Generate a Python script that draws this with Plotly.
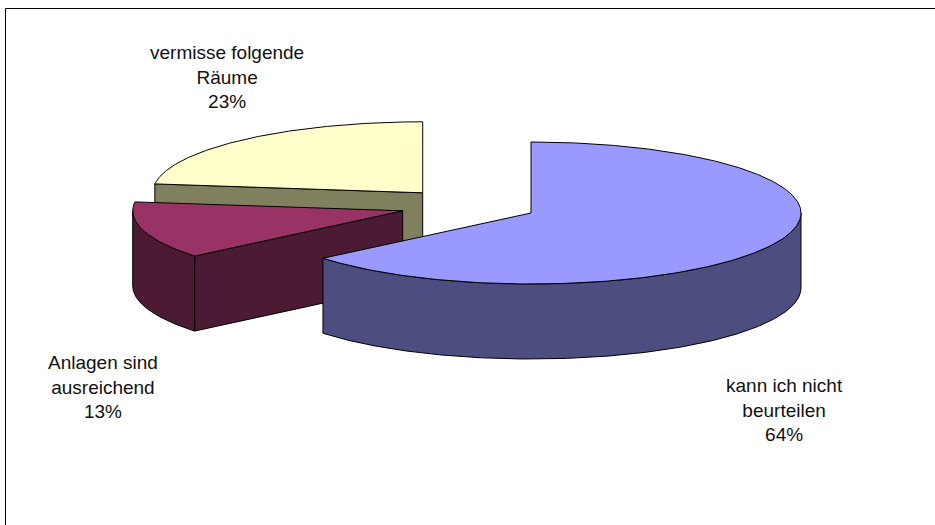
import math
import plotly.graph_objects as go

# Data
categories = ["kann ich nicht<br>beurteilen", "Anlagen sind<br>ausreichend", "vermisse folgende<br>Räume"]
values = [64, 13, 23]

# Styles and layout of the tilted pie
top_colors = ["#9999FF", "#993366", "#FFFFCC"]
side_colors = ["#4D4D80", "#4D1A33", "#80805F"]
apex_x = [531, 402.7, 422.7]
apex_y = [213, 210.8, 192.8]
label_x = [784, 103, 227]
label_y = [410, 387, 77]
RX, RY, DEPTH = 270, 71, 75
W, H = 935, 525


def rim(cx, cy, deg, dy=0):
    t = math.radians(deg)
    return cx + RX * math.sin(t), cy - RY * math.cos(t) + dy


def arc(cx, cy, a0, a1, dy=0):
    n = max(2, int(abs(a1 - a0)) * 2)
    return [rim(cx, cy, a0 + (a1 - a0) * i / n, dy) for i in range(n + 1)]


def poly(fig, pts, color):
    xs = [p[0] for p in pts] + [pts[0][0]]
    ys = [p[1] for p in pts] + [pts[0][1]]
    fig.add_trace(go.Scatter(x=xs, y=ys, mode="lines", fill="toself", fillcolor=color,
                             line=dict(color="#000000", width=1), hoverinfo="skip", showlegend=False))


total = sum(values)
starts = [sum(values[:i]) / total * 360 for i in range(len(values))]
ends = [sum(values[:i + 1]) / total * 360 for i in range(len(values))]

fig = go.Figure()

# Back slice first, front slice last
for i in [2, 1, 0]:
    cx, cy, a0, a1 = apex_x[i], apex_y[i], starts[i], ends[i]
    # outer wall: the part of the rim that faces the viewer
    w0, w1 = max(a0, 90), min(a1, 270)
    if w1 > w0:
        poly(fig, arc(cx, cy, w0, w1) + arc(cx, cy, w1, w0, DEPTH), side_colors[i])
    # cut faces visible on the back and middle slices
    if i in (1, 2):
        p = rim(cx, cy, a0)
        q = rim(cx, cy, a0, DEPTH)
        poly(fig, [p, (cx, cy), (cx, cy + DEPTH), q], side_colors[i])
    # top surface
    poly(fig, [(cx, cy)] + arc(cx, cy, a0, a1), top_colors[i])

for i, c in enumerate(categories):
    fig.add_annotation(x=label_x[i], y=label_y[i], text=f"{c}<br>{values[i]}%", showarrow=False,
                       xanchor="center", yanchor="middle", align="center",
                       font=dict(family="Liberation Sans, Arial", size=19, color="#111111"))

# Chart-area frame (top and left only, as in the picture)
fig.add_shape(type="line", x0=5.5, x1=W, y0=8.5, y1=8.5, line=dict(color="#000000", width=1))
fig.add_shape(type="line", x0=5.5, x1=5.5, y0=8.5, y1=H, line=dict(color="#000000", width=1))

fig.update_xaxes(range=[0, W], visible=False, fixedrange=True)
fig.update_yaxes(range=[H, 0], visible=False, fixedrange=True)
fig.update_layout(width=W, height=H, margin=dict(l=0, r=0, t=0, b=0), autosize=False,
                  paper_bgcolor="#FFFFFF", plot_bgcolor="#FFFFFF", showlegend=False)

fig.write_html("out.html", config={"displayModeBar": False},
               post_script="document.body.style.margin='0';document.documentElement.style.overflow='hidden';")
